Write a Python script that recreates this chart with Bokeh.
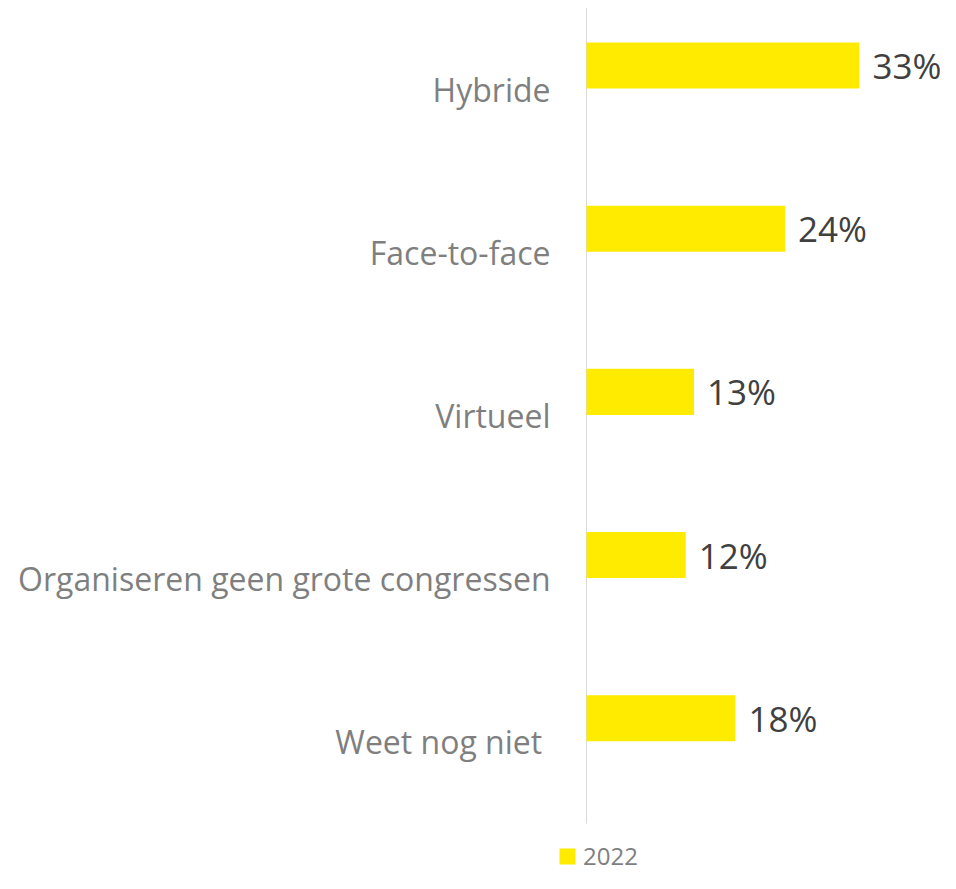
from bokeh.plotting import figure
from bokeh.models import Range1d, ColumnDataSource, Legend, LegendItem, LabelSet, FixedTicker
from bokeh.core.properties import value
from bokeh.embed import file_html
from bokeh.resources import INLINE

categories = ["Hybride", "Face-to-face", "Virtueel", "Organiseren geen grote congressen", "Weet nog niet "]
values = [33, 24, 13, 12, 18]
series_name = "2022"

n = len(categories)
pos = [n - 1 - i for i in range(n)]          # top-to-bottom category slots
bar_pos = [y + 0.145 for y in pos]           # bar sits in the upper part of each slot
labels = [f"{v}%" for v in values]
src = ColumnDataSource(dict(cat=categories, val=values, lab=labels, y=pos, yb=bar_pos))

p = figure(width=940, height=873, output_backend="svg", toolbar_location=None,
           y_range=Range1d(-0.806, n - 0.5),
           x_range=Range1d(-3.75, 42.8),
           min_border_left=555, min_border_top=7, min_border_bottom=0, min_border_right=0)
p.outline_line_color = None
p.background_fill_color = "white"
p.border_fill_color = "white"
p.grid.visible = False
p.xaxis.visible = False

yax = p.yaxis[0]
yax.ticker = FixedTicker(ticks=pos)
yax.major_label_overrides = {y: c for y, c in zip(pos, categories)}
yax.axis_line_color = None
yax.major_tick_line_color = None
yax.minor_tick_line_color = None
yax.major_tick_in = 0
yax.major_tick_out = 0
yax.minor_tick_in = 0
yax.minor_tick_out = 0
yax.major_label_text_font = "Open Sans"
yax.major_label_text_font_size = "32px"
yax.major_label_text_color = "#7f7f7f"
yax.major_label_standoff = 5

# category axis line at x = 0
p.segment(x0=[0], y0=[-0.5], x1=[0], y1=[n - 0.5], line_color="#d9d9d9", line_width=1)

r = p.hbar(y="yb", right="val", left=0, height=0.282,
           source=src, fill_color="#ffeb00", line_color=None)

lbl = LabelSet(x="val", y="yb", text="lab", source=src,
               x_offset=13, text_baseline="middle", text_font=value("Open Sans"),
               text_font_size="35px", text_color="#404040")
p.add_layout(lbl)

legend = Legend(items=[LegendItem(label=series_name, renderers=[r])],
                location=(2, 1), orientation="horizontal",
                padding=0, margin=0, border_line_color=None, background_fill_alpha=0,
                glyph_width=20, glyph_height=20, label_standoff=6,
                label_text_font="Open Sans", label_text_font_size="24px",
                label_text_color="#7f7f7f", label_height=20)
p.add_layout(legend, "center")

open("out.html", "w").write(file_html(p, INLINE))
